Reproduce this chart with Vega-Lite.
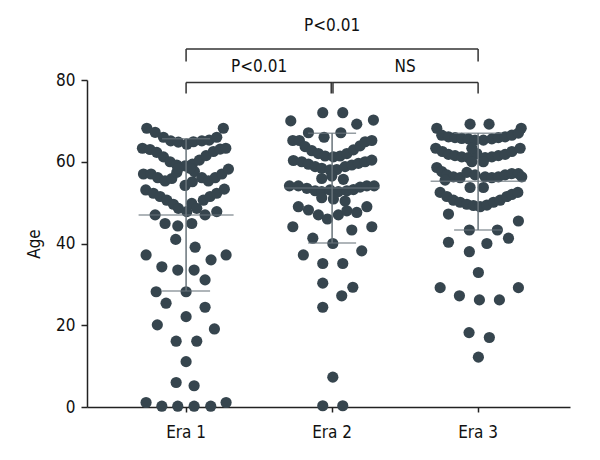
{
  "$schema": "https://vega.github.io/schema/vega-lite/v6.json",
  "autosize": {"type": "none"},
  "width": 483,
  "height": 327,
  "padding": {"left": 87, "top": 80, "right": 30, "bottom": 53},
  "background": "white",
  "config": {
    "view": {"stroke": null},
    "font": "Liberation Sans Narrow, DejaVu Sans Condensed, sans-serif",
    "axis": {
      "grid": false,
      "domainColor": "#222222",
      "domainWidth": 1.5,
      "tickColor": "#222222",
      "tickWidth": 1.5,
      "labelColor": "#111111",
      "titleColor": "#111111",
      "labelFontSize": 17,
      "titleFontSize": 17,
      "titleFontWeight": "normal",
      "labelFont": "Liberation Sans Narrow, DejaVu Sans Condensed, sans-serif",
      "titleFont": "Liberation Sans Narrow, DejaVu Sans Condensed, sans-serif"
    }
  },
  "datasets": {
    "points": [
      {"era": "Era 1", "offset": -0.269, "age": 68.2},
      {"era": "Era 1", "offset": -0.212, "age": 67.2},
      {"era": "Era 1", "offset": -0.155, "age": 66.0},
      {"era": "Era 1", "offset": -0.105, "age": 65.1},
      {"era": "Era 1", "offset": -0.053, "age": 64.8},
      {"era": "Era 1", "offset": 0.005, "age": 64.3},
      {"era": "Era 1", "offset": 0.050, "age": 64.9},
      {"era": "Era 1", "offset": 0.108, "age": 65.1},
      {"era": "Era 1", "offset": 0.158, "age": 65.3},
      {"era": "Era 1", "offset": 0.210, "age": 66.0},
      {"era": "Era 1", "offset": 0.255, "age": 68.2},
      {"era": "Era 1", "offset": -0.299, "age": 63.3},
      {"era": "Era 1", "offset": -0.247, "age": 63.0},
      {"era": "Era 1", "offset": -0.201, "age": 62.3},
      {"era": "Era 1", "offset": -0.155, "age": 61.2},
      {"era": "Era 1", "offset": -0.110, "age": 60.0},
      {"era": "Era 1", "offset": -0.064, "age": 59.2},
      {"era": "Era 1", "offset": -0.007, "age": 59.0},
      {"era": "Era 1", "offset": 0.043, "age": 59.4},
      {"era": "Era 1", "offset": 0.091, "age": 60.4},
      {"era": "Era 1", "offset": 0.137, "age": 61.5},
      {"era": "Era 1", "offset": 0.187, "age": 62.5},
      {"era": "Era 1", "offset": 0.233, "age": 63.1},
      {"era": "Era 1", "offset": 0.272, "age": 63.3},
      {"era": "Era 1", "offset": -0.292, "age": 57.0},
      {"era": "Era 1", "offset": -0.240, "age": 57.0},
      {"era": "Era 1", "offset": -0.194, "age": 56.1},
      {"era": "Era 1", "offset": -0.144, "age": 55.3},
      {"era": "Era 1", "offset": -0.098, "age": 55.9},
      {"era": "Era 1", "offset": -0.064, "age": 57.4},
      {"era": "Era 1", "offset": -0.007, "age": 54.2},
      {"era": "Era 1", "offset": 0.043, "age": 55.1},
      {"era": "Era 1", "offset": 0.057, "age": 57.6},
      {"era": "Era 1", "offset": 0.108, "age": 56.1},
      {"era": "Era 1", "offset": 0.153, "age": 55.3},
      {"era": "Era 1", "offset": 0.199, "age": 56.1},
      {"era": "Era 1", "offset": 0.245, "age": 57.0},
      {"era": "Era 1", "offset": 0.290, "age": 58.2},
      {"era": "Era 1", "offset": -0.053, "age": 58.4},
      {"era": "Era 1", "offset": 0.027, "age": 58.4},
      {"era": "Era 1", "offset": -0.276, "age": 53.1},
      {"era": "Era 1", "offset": -0.224, "age": 52.3},
      {"era": "Era 1", "offset": -0.178, "age": 51.5},
      {"era": "Era 1", "offset": -0.132, "age": 50.6},
      {"era": "Era 1", "offset": -0.087, "age": 49.6},
      {"era": "Era 1", "offset": -0.053, "age": 48.6},
      {"era": "Era 1", "offset": 0.005, "age": 47.8},
      {"era": "Era 1", "offset": 0.039, "age": 49.8},
      {"era": "Era 1", "offset": 0.073, "age": 48.6},
      {"era": "Era 1", "offset": 0.118, "age": 50.6},
      {"era": "Era 1", "offset": 0.164, "age": 51.5},
      {"era": "Era 1", "offset": 0.210, "age": 52.3},
      {"era": "Era 1", "offset": 0.262, "age": 53.3},
      {"era": "Era 1", "offset": -0.212, "age": 47.0},
      {"era": "Era 1", "offset": 0.130, "age": 47.0},
      {"era": "Era 1", "offset": 0.210, "age": 47.8},
      {"era": "Era 1", "offset": -0.144, "age": 44.9},
      {"era": "Era 1", "offset": -0.057, "age": 44.3},
      {"era": "Era 1", "offset": 0.039, "age": 44.9},
      {"era": "Era 1", "offset": -0.071, "age": 41.0},
      {"era": "Era 1", "offset": 0.062, "age": 39.1},
      {"era": "Era 1", "offset": -0.274, "age": 37.2},
      {"era": "Era 1", "offset": 0.274, "age": 37.2},
      {"era": "Era 1", "offset": 0.171, "age": 36.0},
      {"era": "Era 1", "offset": -0.166, "age": 34.3},
      {"era": "Era 1", "offset": -0.057, "age": 33.5},
      {"era": "Era 1", "offset": 0.055, "age": 33.5},
      {"era": "Era 1", "offset": 0.130, "age": 31.1},
      {"era": "Era 1", "offset": -0.205, "age": 28.2},
      {"era": "Era 1", "offset": 0.0, "age": 28.2},
      {"era": "Era 1", "offset": -0.137, "age": 25.4},
      {"era": "Era 1", "offset": 0.130, "age": 24.4},
      {"era": "Era 1", "offset": 0.0, "age": 22.1},
      {"era": "Era 1", "offset": -0.197, "age": 20.1},
      {"era": "Era 1", "offset": 0.194, "age": 19.1},
      {"era": "Era 1", "offset": -0.068, "age": 16.1},
      {"era": "Era 1", "offset": 0.073, "age": 16.1},
      {"era": "Era 1", "offset": 0.0, "age": 11.1},
      {"era": "Era 1", "offset": -0.068, "age": 6.0},
      {"era": "Era 1", "offset": 0.055, "age": 5.2},
      {"era": "Era 1", "offset": -0.274, "age": 1.1},
      {"era": "Era 1", "offset": -0.166, "age": 0.2},
      {"era": "Era 1", "offset": -0.057, "age": 0.2},
      {"era": "Era 1", "offset": 0.055, "age": 0.2},
      {"era": "Era 1", "offset": 0.169, "age": 0.2},
      {"era": "Era 1", "offset": 0.274, "age": 1.1},

      {"era": "Era 2", "offset": -0.064, "age": 72.0},
      {"era": "Era 2", "offset": 0.073, "age": 72.0},
      {"era": "Era 2", "offset": -0.283, "age": 70.0},
      {"era": "Era 2", "offset": 0.169, "age": 69.2},
      {"era": "Era 2", "offset": 0.283, "age": 70.2},
      {"era": "Era 2", "offset": -0.162, "age": 67.1},
      {"era": "Era 2", "offset": 0.060, "age": 67.1},
      {"era": "Era 2", "offset": -0.055, "age": 66.0},
      {"era": "Era 2", "offset": -0.269, "age": 65.2},
      {"era": "Era 2", "offset": -0.224, "age": 65.2},
      {"era": "Era 2", "offset": -0.185, "age": 63.7},
      {"era": "Era 2", "offset": -0.139, "age": 62.7},
      {"era": "Era 2", "offset": -0.094, "age": 62.0},
      {"era": "Era 2", "offset": -0.048, "age": 61.4},
      {"era": "Era 2", "offset": 0.009, "age": 61.2},
      {"era": "Era 2", "offset": 0.055, "age": 61.4},
      {"era": "Era 2", "offset": 0.101, "age": 62.0},
      {"era": "Era 2", "offset": 0.146, "age": 62.9},
      {"era": "Era 2", "offset": 0.192, "age": 63.9},
      {"era": "Era 2", "offset": 0.226, "age": 64.9},
      {"era": "Era 2", "offset": 0.272, "age": 65.2},
      {"era": "Era 2", "offset": -0.265, "age": 60.3},
      {"era": "Era 2", "offset": -0.208, "age": 60.0},
      {"era": "Era 2", "offset": -0.162, "age": 59.4},
      {"era": "Era 2", "offset": -0.116, "age": 58.8},
      {"era": "Era 2", "offset": -0.071, "age": 58.4},
      {"era": "Era 2", "offset": -0.014, "age": 58.0},
      {"era": "Era 2", "offset": 0.032, "age": 58.1},
      {"era": "Era 2", "offset": 0.089, "age": 58.8},
      {"era": "Era 2", "offset": 0.135, "age": 59.2},
      {"era": "Era 2", "offset": 0.180, "age": 59.6},
      {"era": "Era 2", "offset": 0.226, "age": 60.0},
      {"era": "Era 2", "offset": 0.272, "age": 60.4},
      {"era": "Era 2", "offset": -0.071, "age": 55.9},
      {"era": "Era 2", "offset": -0.002, "age": 56.5},
      {"era": "Era 2", "offset": 0.077, "age": 55.7},
      {"era": "Era 2", "offset": -0.292, "age": 54.1},
      {"era": "Era 2", "offset": -0.231, "age": 54.1},
      {"era": "Era 2", "offset": -0.173, "age": 53.5},
      {"era": "Era 2", "offset": -0.116, "age": 52.9},
      {"era": "Era 2", "offset": -0.071, "age": 52.7},
      {"era": "Era 2", "offset": -0.014, "age": 53.1},
      {"era": "Era 2", "offset": 0.043, "age": 52.7},
      {"era": "Era 2", "offset": 0.101, "age": 52.9},
      {"era": "Era 2", "offset": 0.146, "age": 53.2},
      {"era": "Era 2", "offset": 0.192, "age": 53.8},
      {"era": "Era 2", "offset": 0.238, "age": 54.1},
      {"era": "Era 2", "offset": 0.288, "age": 54.1},
      {"era": "Era 2", "offset": -0.071, "age": 51.2},
      {"era": "Era 2", "offset": 0.009, "age": 50.9},
      {"era": "Era 2", "offset": 0.089, "age": 50.4},
      {"era": "Era 2", "offset": -0.231, "age": 49.0},
      {"era": "Era 2", "offset": -0.162, "age": 48.2},
      {"era": "Era 2", "offset": -0.094, "age": 47.0},
      {"era": "Era 2", "offset": -0.032, "age": 46.0},
      {"era": "Era 2", "offset": 0.043, "age": 47.0},
      {"era": "Era 2", "offset": 0.101, "age": 48.0},
      {"era": "Era 2", "offset": 0.169, "age": 47.6},
      {"era": "Era 2", "offset": 0.238, "age": 49.0},
      {"era": "Era 2", "offset": -0.269, "age": 44.1},
      {"era": "Era 2", "offset": 0.135, "age": 43.3},
      {"era": "Era 2", "offset": 0.272, "age": 44.1},
      {"era": "Era 2", "offset": -0.132, "age": 41.3},
      {"era": "Era 2", "offset": 0.005, "age": 40.0},
      {"era": "Era 2", "offset": 0.203, "age": 38.2},
      {"era": "Era 2", "offset": -0.197, "age": 37.2},
      {"era": "Era 2", "offset": -0.064, "age": 35.1},
      {"era": "Era 2", "offset": 0.073, "age": 35.1},
      {"era": "Era 2", "offset": -0.064, "age": 30.3},
      {"era": "Era 2", "offset": 0.142, "age": 29.3},
      {"era": "Era 2", "offset": 0.066, "age": 27.2},
      {"era": "Era 2", "offset": -0.064, "age": 24.4},
      {"era": "Era 2", "offset": 0.005, "age": 7.3},
      {"era": "Era 2", "offset": -0.064, "age": 0.3},
      {"era": "Era 2", "offset": 0.073, "age": 0.3},

      {"era": "Era 3", "offset": -0.055, "age": 69.2},
      {"era": "Era 3", "offset": 0.075, "age": 69.2},
      {"era": "Era 3", "offset": -0.283, "age": 68.2},
      {"era": "Era 3", "offset": 0.295, "age": 68.2},
      {"era": "Era 3", "offset": -0.249, "age": 66.5},
      {"era": "Era 3", "offset": -0.203, "age": 66.1},
      {"era": "Era 3", "offset": -0.158, "age": 65.9},
      {"era": "Era 3", "offset": -0.112, "age": 65.7},
      {"era": "Era 3", "offset": -0.066, "age": 65.6},
      {"era": "Era 3", "offset": -0.021, "age": 65.3},
      {"era": "Era 3", "offset": 0.036, "age": 65.3},
      {"era": "Era 3", "offset": 0.094, "age": 65.6},
      {"era": "Era 3", "offset": 0.139, "age": 65.9},
      {"era": "Era 3", "offset": 0.185, "age": 66.1},
      {"era": "Era 3", "offset": 0.231, "age": 66.5},
      {"era": "Era 3", "offset": 0.276, "age": 67.0},
      {"era": "Era 3", "offset": -0.290, "age": 63.3},
      {"era": "Era 3", "offset": -0.245, "age": 62.5},
      {"era": "Era 3", "offset": -0.203, "age": 61.8},
      {"era": "Era 3", "offset": -0.158, "age": 61.5},
      {"era": "Era 3", "offset": -0.112, "age": 61.2},
      {"era": "Era 3", "offset": -0.066, "age": 61.0},
      {"era": "Era 3", "offset": -0.009, "age": 62.0},
      {"era": "Era 3", "offset": 0.048, "age": 61.0},
      {"era": "Era 3", "offset": 0.094, "age": 61.2},
      {"era": "Era 3", "offset": 0.139, "age": 61.5},
      {"era": "Era 3", "offset": 0.185, "age": 61.8},
      {"era": "Era 3", "offset": 0.231, "age": 62.5},
      {"era": "Era 3", "offset": 0.288, "age": 63.3},
      {"era": "Era 3", "offset": -0.043, "age": 63.3},
      {"era": "Era 3", "offset": -0.283, "age": 58.6},
      {"era": "Era 3", "offset": -0.249, "age": 57.6},
      {"era": "Era 3", "offset": -0.214, "age": 56.8},
      {"era": "Era 3", "offset": -0.169, "age": 56.3},
      {"era": "Era 3", "offset": -0.123, "age": 56.1},
      {"era": "Era 3", "offset": -0.077, "age": 57.4},
      {"era": "Era 3", "offset": -0.021, "age": 56.8},
      {"era": "Era 3", "offset": 0.048, "age": 56.3},
      {"era": "Era 3", "offset": 0.094, "age": 56.1},
      {"era": "Era 3", "offset": 0.139, "age": 56.3},
      {"era": "Era 3", "offset": 0.185, "age": 56.8},
      {"era": "Era 3", "offset": 0.231, "age": 57.1},
      {"era": "Era 3", "offset": 0.276, "age": 57.1},
      {"era": "Era 3", "offset": 0.299, "age": 56.3},
      {"era": "Era 3", "offset": -0.226, "age": 55.5},
      {"era": "Era 3", "offset": -0.043, "age": 60.0},
      {"era": "Era 3", "offset": 0.036, "age": 60.0},
      {"era": "Era 3", "offset": -0.055, "age": 53.7},
      {"era": "Era 3", "offset": 0.036, "age": 53.7},
      {"era": "Era 3", "offset": -0.260, "age": 52.5},
      {"era": "Era 3", "offset": -0.214, "age": 51.5},
      {"era": "Era 3", "offset": -0.169, "age": 50.6},
      {"era": "Era 3", "offset": -0.123, "age": 50.1},
      {"era": "Era 3", "offset": -0.077, "age": 49.6},
      {"era": "Era 3", "offset": -0.032, "age": 49.3},
      {"era": "Era 3", "offset": 0.014, "age": 49.0},
      {"era": "Era 3", "offset": 0.060, "age": 49.4},
      {"era": "Era 3", "offset": 0.105, "age": 50.1},
      {"era": "Era 3", "offset": 0.151, "age": 50.6},
      {"era": "Era 3", "offset": 0.197, "age": 51.5},
      {"era": "Era 3", "offset": 0.231, "age": 52.0},
      {"era": "Era 3", "offset": 0.272, "age": 52.5},
      {"era": "Era 3", "offset": -0.203, "age": 47.2},
      {"era": "Era 3", "offset": 0.276, "age": 45.5},
      {"era": "Era 3", "offset": -0.060, "age": 43.3},
      {"era": "Era 3", "offset": 0.132, "age": 43.3},
      {"era": "Era 3", "offset": -0.203, "age": 40.3},
      {"era": "Era 3", "offset": 0.060, "age": 40.0},
      {"era": "Era 3", "offset": 0.208, "age": 41.3},
      {"era": "Era 3", "offset": -0.060, "age": 38.0},
      {"era": "Era 3", "offset": 0.002, "age": 32.9},
      {"era": "Era 3", "offset": -0.260, "age": 29.2},
      {"era": "Era 3", "offset": 0.276, "age": 29.2},
      {"era": "Era 3", "offset": -0.128, "age": 27.2},
      {"era": "Era 3", "offset": 0.009, "age": 26.2},
      {"era": "Era 3", "offset": 0.146, "age": 26.2},
      {"era": "Era 3", "offset": -0.062, "age": 18.2},
      {"era": "Era 3", "offset": 0.077, "age": 17.0},
      {"era": "Era 3", "offset": 0.002, "age": 12.2}
    ],
    "stats": [
      {"era": "Era 1", "mean": 47.0, "lo": 28.4, "hi": 65.6},
      {"era": "Era 2", "mean": 53.6, "lo": 40.1, "hi": 67.0},
      {"era": "Era 3", "mean": 55.2, "lo": 43.3, "hi": 67.0}
    ],
    "bars": [
      {"from": "Era 1", "to": "Era 3", "y": 87.6},
      {"from": "Era 1", "to": "Era 2", "y": 79.4},
      {"from": "Era 2", "to": "Era 3", "y": 79.4}
    ],
    "drops": [
      {"era": "Era 1", "offset": 0, "y": 84.5, "y2": 87.6},
      {"era": "Era 3", "offset": 0, "y": 84.5, "y2": 87.6},
      {"era": "Era 1", "offset": 0, "y": 76.7, "y2": 79.4},
      {"era": "Era 2", "offset": -0.006, "y": 76.7, "y2": 79.4},
      {"era": "Era 2", "offset": 0.006, "y": 76.7, "y2": 79.4},
      {"era": "Era 3", "offset": 0, "y": 76.7, "y2": 79.4}
    ],
    "labels": [
      {"era": "Era 2", "offset": 0, "y": 93.2, "label": "P<0.01"},
      {"era": "Era 1", "offset": 0.5, "y": 83.2, "label": "P<0.01"},
      {"era": "Era 2", "offset": 0.5, "y": 83.2, "label": "NS"}
    ]
  },
  "encoding": {
    "x": {
      "field": "era", "type": "nominal",
      "scale": {"domain": ["Era 1", "Era 2", "Era 3"], "paddingInner": 0, "paddingOuter": 0.154, "align": 0.58},
      "axis": {"title": null, "labelAngle": 0, "tickSize": 5, "labelPadding": 12}
    }
  },
  "layer": [
    {
      "data": {"name": "points"},
      "mark": {"type": "point", "shape": "circle", "filled": true, "size": 125, "opacity": 1, "color": "#36454e"},
      "encoding": {
        "xOffset": {"field": "offset", "type": "quantitative", "scale": {"domain": [-0.5, 0.5]}},
        "y": {
          "field": "age", "type": "quantitative",
          "scale": {"domain": [0, 80], "nice": false, "zero": true},
          "axis": {"title": "Age", "values": [0, 20, 40, 60, 80], "tickSize": 6, "labelPadding": 6, "titlePadding": 12}
        }
      }
    },
    {
      "data": {"name": "stats"},
      "mark": {"type": "rule", "color": "#68737a", "strokeWidth": 1.5},
      "encoding": {"y": {"field": "lo", "type": "quantitative"}, "y2": {"field": "hi"}}
    },
    {
      "data": {"name": "stats"},
      "mark": {"type": "tick", "orient": "horizontal", "color": "#68737a", "size": 95, "thickness": 1.5},
      "encoding": {"y": {"field": "mean", "type": "quantitative"}}
    },
    {
      "data": {"name": "stats"},
      "mark": {"type": "tick", "orient": "horizontal", "color": "#68737a", "size": 48, "thickness": 1.5},
      "encoding": {"y": {"field": "lo", "type": "quantitative"}}
    },
    {
      "data": {"name": "stats"},
      "mark": {"type": "tick", "orient": "horizontal", "color": "#68737a", "size": 48, "thickness": 1.5},
      "encoding": {"y": {"field": "hi", "type": "quantitative"}}
    },
    {
      "data": {"name": "bars"},
      "mark": {"type": "rule", "color": "#333333", "strokeWidth": 1.5},
      "encoding": {"x": {"field": "from", "type": "nominal"}, "x2": {"field": "to"}, "y": {"field": "y", "type": "quantitative"}}
    },
    {
      "data": {"name": "drops"},
      "mark": {"type": "rule", "color": "#333333", "strokeWidth": 1.5},
      "encoding": {
        "xOffset": {"field": "offset", "type": "quantitative"},
        "y": {"field": "y", "type": "quantitative"}, "y2": {"field": "y2"}
      }
    },
    {
      "data": {"name": "labels"},
      "mark": {"type": "text", "fontSize": 17, "color": "#111111", "baseline": "middle"},
      "encoding": {
        "xOffset": {"field": "offset", "type": "quantitative"},
        "y": {"field": "y", "type": "quantitative"},
        "text": {"field": "label"}
      }
    }
  ]
}
